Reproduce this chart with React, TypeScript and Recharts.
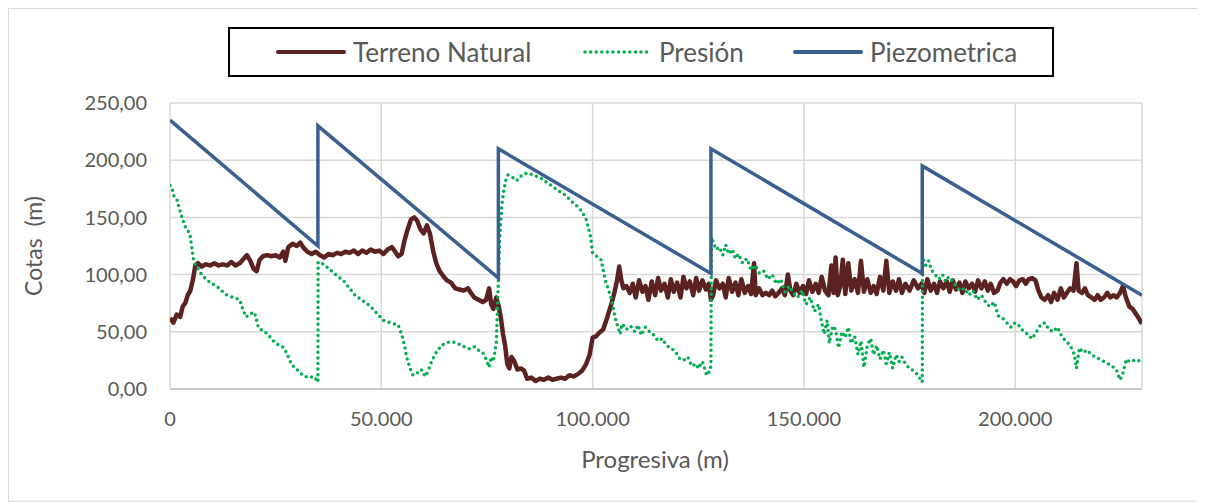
import { CartesianGrid, Line, LineChart, XAxis, YAxis } from "recharts";

// [progresiva (m), cota (m)]
const terrenoNatural: [number, number][] = [
  [0, 62], [800, 58], [1600, 65], [2400, 63], [3000, 72], [3600, 75], [4200, 82], [4800, 86],
  [5400, 95], [6000, 108], [6600, 110], [7500, 107], [8500, 109], [9500, 108], [10500, 110],
  [11500, 108], [12500, 109], [13500, 108], [14500, 111], [15500, 108], [16500, 110], [17500, 114],
  [18200, 117], [19000, 112], [19800, 105], [20500, 103], [21200, 113], [22000, 116], [23000, 117],
  [24000, 116], [25000, 117], [26000, 115], [26800, 120], [27300, 112], [28000, 124], [29000, 127],
  [30000, 125], [30800, 128], [31500, 124], [32500, 120], [33500, 118], [34500, 120], [35500, 117],
  [36500, 115], [37500, 118], [38500, 117], [39500, 119], [40500, 118], [41500, 120], [42500, 119],
  [43500, 121], [44500, 118], [45500, 121], [46500, 119], [47500, 122], [48500, 120], [49500, 121],
  [50500, 118], [51500, 122], [52500, 124], [53300, 120], [54000, 116], [54800, 118], [55500, 130],
  [56200, 139], [57000, 148], [57800, 150], [58500, 147], [59200, 140], [60000, 136], [60800, 143],
  [61500, 136], [62300, 120], [63000, 110], [63800, 103], [64600, 99], [65500, 95], [66500, 93],
  [67500, 88], [68500, 87], [69500, 86], [70500, 88], [71200, 84], [72000, 80], [73000, 78],
  [74000, 76], [74800, 78], [75500, 88], [76000, 74], [76500, 70], [77200, 80], [77800, 72],
  [78300, 62], [78800, 48], [79300, 38], [79800, 22], [80300, 18], [80800, 28], [81500, 24],
  [82200, 17], [83000, 18], [83800, 16], [84500, 9], [85500, 10], [86500, 7], [87500, 9],
  [88500, 8], [89500, 10], [90500, 8], [91500, 9], [92500, 10], [93500, 9], [94500, 12],
  [95500, 11], [96500, 13], [97500, 16], [98500, 22], [99300, 30], [100000, 45], [100800, 46],
  [101500, 49], [102500, 52], [103500, 63], [104500, 75], [105200, 85], [105800, 95], [106300, 107],
  [106800, 95], [107300, 88], [108000, 90], [108800, 84], [109500, 92], [110200, 80], [111000, 95],
  [111800, 85], [112500, 90], [113200, 78], [114000, 94], [114800, 82], [115500, 97], [116200, 86],
  [117000, 92], [117800, 80], [118500, 96], [119200, 85], [120000, 93], [120800, 80], [121500, 98],
  [122200, 88], [123000, 94], [123800, 82], [124500, 97], [125200, 86], [126000, 95], [126800, 87],
  [127500, 92], [128000, 78], [128500, 82], [129200, 95], [130000, 88], [130800, 92], [131500, 80],
  [132200, 97], [133000, 85], [133800, 93], [134500, 82], [135200, 96], [136000, 84], [136800, 90],
  [137500, 83], [138200, 110], [138600, 82], [139400, 88], [140200, 82], [141000, 84], [141800, 82],
  [142500, 86], [143200, 81], [144000, 84], [144800, 88], [145500, 82], [146200, 100], [146800, 86],
  [147500, 82], [148200, 92], [149000, 84], [149800, 90], [150500, 83], [151200, 95], [152000, 85],
  [152800, 92], [153500, 84], [154200, 98], [155000, 86], [155800, 82], [156500, 108], [157000, 84],
  [157500, 115], [158000, 82], [158600, 90], [159200, 113], [159800, 83], [160500, 110], [161200, 86],
  [162000, 96], [162800, 84], [163500, 112], [164200, 85], [165000, 96], [165800, 84], [166500, 90],
  [167200, 83], [168000, 98], [168800, 86], [169500, 112], [170200, 84], [171000, 94], [171800, 86],
  [172500, 96], [173200, 84], [174000, 92], [175000, 86], [176000, 95], [177000, 88], [177800, 92],
  [178500, 84], [179200, 96], [180000, 86], [180800, 92], [181500, 84], [182200, 94], [183000, 88],
  [183800, 94], [184500, 85], [185200, 95], [186000, 87], [186800, 93], [187500, 84], [188200, 94],
  [189000, 88], [189800, 92], [190500, 85], [191200, 95], [192000, 88], [192800, 94], [193500, 86],
  [194200, 92], [195000, 84], [195800, 86], [196500, 93], [197200, 96], [198000, 92], [198800, 96],
  [199500, 94], [200200, 90], [201000, 95], [201800, 96], [202500, 92], [203200, 96], [204000, 97],
  [204800, 95], [205500, 86], [206200, 80], [207000, 78], [207800, 82], [208500, 76], [209200, 84],
  [210000, 78], [210800, 88], [211500, 80], [212200, 84], [213000, 88], [213800, 86], [214500, 110],
  [215000, 86], [215800, 84], [216500, 88], [217200, 82], [218000, 80], [218800, 78], [219500, 82],
  [220200, 78], [221000, 80], [221800, 84], [222500, 80], [223200, 82], [224000, 80], [224800, 84],
  [225500, 90], [226200, 80], [227000, 72], [227800, 70], [228500, 66], [229200, 62], [230000, 57],
];

const presion: [number, number][] = [
  [0, 178], [500, 175], [1000, 168], [1600, 166], [2200, 158], [3000, 148], [3800, 140], [4700, 136],
  [5200, 122], [5600, 112], [6300, 107], [7500, 100], [8500, 96], [9500, 93], [11000, 90],
  [12500, 85], [13500, 82], [15000, 80], [16500, 78], [17200, 70], [18000, 63], [19000, 66],
  [20000, 67], [20500, 60], [21000, 53], [22500, 50], [24000, 44], [25000, 40], [26000, 38],
  [27000, 36], [28000, 28], [28800, 21], [29800, 18], [30800, 14], [31800, 11], [33000, 10],
  [34000, 11], [34700, 8], [35000, 6], [35050, 111], [36000, 110], [37000, 107], [38000, 104],
  [39500, 99], [41000, 95], [42500, 88], [44000, 81], [45000, 79], [46500, 75], [47500, 72],
  [49000, 66], [50500, 60], [52000, 58], [53000, 57], [54000, 56], [54800, 48], [55500, 38],
  [56000, 28], [56800, 18], [57500, 12], [58500, 14], [59500, 17], [60000, 13], [60500, 11],
  [61200, 17], [62000, 25], [63000, 32], [64000, 37], [65000, 40], [66000, 41], [67000, 41],
  [68000, 40], [69000, 38], [70000, 36], [71000, 35], [72000, 37], [73000, 34], [74000, 32],
  [74800, 26], [75500, 19], [76000, 28], [76500, 24], [77200, 40], [77500, 72], [78000, 130],
  [78500, 160], [79000, 174], [79500, 183], [80000, 187], [81000, 185], [82000, 182], [83000, 186],
  [84500, 189], [86000, 187], [87500, 185], [89000, 181], [90500, 177], [92000, 173], [93000, 171],
  [94000, 168], [95000, 164], [96000, 161], [96500, 159], [97500, 155], [98500, 148], [99000, 141],
  [99500, 133], [100000, 119], [101000, 116], [102000, 113], [102500, 104], [103000, 95],
  [104000, 84], [104500, 78], [105000, 68], [105500, 60], [106000, 54], [106500, 48], [107000, 57],
  [108000, 52], [109000, 55], [110000, 50], [110800, 56], [111500, 47], [112500, 54], [113500, 50],
  [114500, 47], [115500, 42], [116500, 44], [117500, 38], [118500, 36], [119500, 33], [120500, 27],
  [121500, 25], [122500, 28], [123500, 20], [124500, 22], [125000, 18], [126000, 24], [127000, 12],
  [127800, 16], [128000, 22], [128100, 133], [128600, 128], [129200, 122], [130000, 124],
  [130800, 117], [131500, 126], [132200, 118], [133000, 122], [133800, 114], [134500, 118],
  [135500, 110], [136500, 114], [137500, 104], [138500, 108], [139500, 101], [140500, 103],
  [141500, 96], [142500, 100], [143500, 92], [144500, 96], [145500, 85], [146500, 90], [147500, 84],
  [148500, 80], [149500, 86], [150500, 74], [151500, 80], [152500, 68], [153500, 74], [154000, 62],
  [154800, 48], [155500, 60], [156000, 40], [156800, 55], [157500, 52], [158200, 36], [159000, 50],
  [159800, 45], [160500, 54], [161200, 40], [162000, 46], [162800, 30], [163500, 42], [164200, 19],
  [165000, 38], [165800, 44], [166500, 30], [167200, 38], [168000, 26], [168800, 34], [169500, 22],
  [170200, 32], [171000, 18], [171800, 30], [172500, 24], [173200, 28], [174000, 22], [175000, 18],
  [176000, 16], [177000, 12], [178000, 6], [178050, 116], [178800, 108], [179500, 112], [180200, 104],
  [181000, 100], [182000, 96], [182800, 100], [183500, 94], [184300, 98], [185000, 95], [186000, 90],
  [187000, 86], [188000, 88], [189000, 82], [190000, 86], [191000, 78], [192000, 82], [193000, 76],
  [194000, 72], [195000, 76], [196000, 64], [197000, 62], [198000, 58], [199000, 54], [200000, 58],
  [201000, 55], [202000, 50], [203000, 48], [204000, 44], [205000, 50], [206000, 56], [207000, 58],
  [208000, 52], [209000, 50], [210000, 54], [211000, 46], [212000, 42], [213000, 38], [214000, 30],
  [214500, 18], [215200, 36], [216000, 32], [217000, 34], [218000, 30], [219000, 28], [220000, 26],
  [221000, 24], [222000, 22], [223000, 20], [224000, 16], [224800, 8], [225500, 14], [226300, 26],
  [227000, 24], [228000, 25], [229000, 24], [230000, 27],
];

const piezometrica: [number, number][] = [
  [0, 235], [35000, 125], [35000, 230], [77700, 97], [77700, 210], [128000, 101],
  [128000, 210], [178000, 101], [178000, 195], [230000, 82],
];

const xTicks = [0, 50000, 100000, 150000, 200000];
const yTicks = [0, 50, 100, 150, 200, 250];

const toRows = (pts: [number, number][]) => pts.map(([x, y]) => ({ x, y }));

const FONT = "Lato, 'Open Sans', sans-serif";
const TEXT = "#595959";

const TERRENO = "#5c2221";
const PRESION = "#00b050";
const PIEZO = "#3a5f91";

const fmtY = (v: number) => v.toFixed(2).replace(".", ",");
const fmtX = (v: number) => v.toLocaleString("de-DE");

function LegendBox() {
  const item = (left: number, sample: JSX.Element, label: string) => (
    <div style={{ position: "absolute", left, top: 0, height: 46, display: "flex", alignItems: "center" }}>
      {sample}
      <span style={{ marginLeft: 7, fontSize: 26, color: TEXT, fontFamily: FONT }}>{label}</span>
    </div>
  );
  return (
    <div
      style={{
        position: "absolute",
        left: 219,
        top: 18,
        width: 822,
        height: 46,
        border: "2px solid #000",
        background: "#fff",
      }}
    >
      {item(
        46,
        <svg width={70} height={8}>
          <line x1={2} y1={4} x2={68} y2={4} stroke={TERRENO} strokeWidth={4} strokeLinecap="round" />
        </svg>,
        "Terreno Natural"
      )}
      {item(
        352,
        <svg width={70} height={8}>
          <line x1={3} y1={4} x2={68} y2={4} stroke={PRESION} strokeWidth={3.5} strokeDasharray="0 5.6" strokeLinecap="round" />
        </svg>,
        "Presión"
      )}
      {item(
        563,
        <svg width={70} height={8}>
          <line x1={2} y1={4} x2={68} y2={4} stroke={PIEZO} strokeWidth={4} strokeLinecap="round" />
        </svg>,
        "Piezometrica"
      )}
    </div>
  );
}

export default function App() {
  return (
    <div
      style={{
        position: "relative",
        width: 1190,
        height: 492,
        border: "1px solid #d9d9d9",
        background: "#fff",
        fontFamily: FONT,
      }}
    >
      <LineChart width={1190} height={492} margin={{ top: 94, right: 57, left: 101, bottom: 82 }}>
        <CartesianGrid stroke="#d9d9d9" strokeWidth={1.5} />
        <XAxis
          type="number"
          dataKey="x"
          domain={[0, 230000]}
          ticks={xTicks}
          tickFormatter={fmtX}
          allowDataOverflow
          height={30}
          tickSize={0}
          tickMargin={23}
          axisLine={{ stroke: "#bfbfbf", strokeWidth: 1.5 }}
          tick={{ fill: TEXT, fontSize: 20, fontFamily: FONT }}
          label={{
            content: () => (
              <text x={646} y={459} textAnchor="middle" fill={TEXT} fontSize={24} fontFamily={FONT}>
                Progresiva (m)
              </text>
            ),
          }}
        />
        <YAxis
          type="number"
          domain={[0, 250]}
          ticks={yTicks}
          tickFormatter={fmtY}
          width={60}
          tickSize={0}
          tickMargin={23}
          axisLine={false}
          tick={{ fill: TEXT, fontSize: 20, fontFamily: FONT }}
          label={{
            content: () => (
              <text
                x={24}
                y={237}
                transform="rotate(-90 24 237)"
                textAnchor="middle"
                dominantBaseline="central"
                fill={TEXT}
                fontSize={23}
                fontFamily={FONT}
                style={{ whiteSpace: "pre" }}
              >
                Cotas  (m)
              </text>
            ),
          }}
        />
        <Line
          data={toRows(terrenoNatural)}
          dataKey="y"
          name="Terreno Natural"
          stroke={TERRENO}
          strokeWidth={4.5}
          dot={false}
          strokeLinejoin="round"
          isAnimationActive={false}
        />
        <Line
          data={toRows(presion)}
          dataKey="y"
          name="Presión"
          stroke={PRESION}
          strokeWidth={3.5}
          strokeDasharray="0 5.6"
          strokeLinecap="round"
          dot={false}
          isAnimationActive={false}
        />
        <Line
          data={toRows(piezometrica)}
          dataKey="y"
          name="Piezometrica"
          stroke={PIEZO}
          strokeWidth={3.5}
          dot={false}
          isAnimationActive={false}
        />
      </LineChart>
      <LegendBox />
    </div>
  );
}
